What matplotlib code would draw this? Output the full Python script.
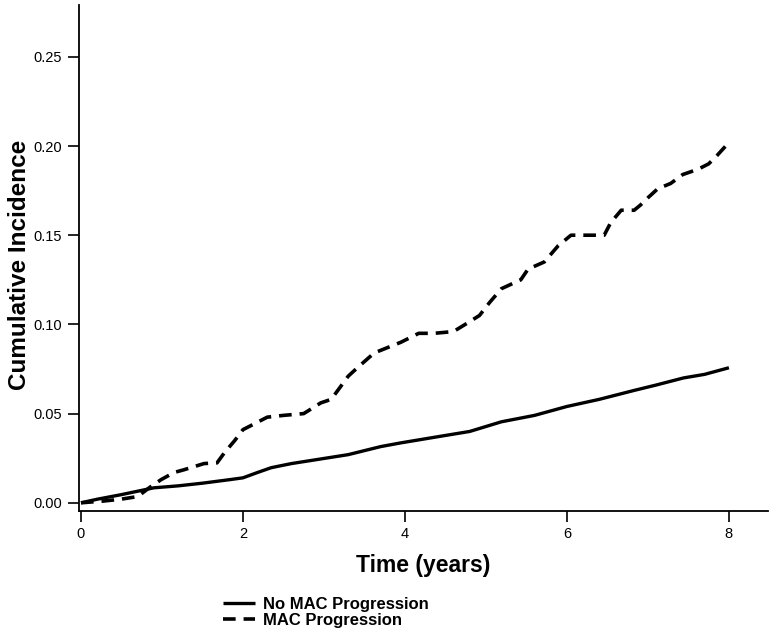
import numpy as np
import matplotlib.pyplot as plt

plt.rcParams['font.family'] = ['Liberation Sans', 'DejaVu Sans']

# Cumulative incidence
t_no_mac = [0.0, 0.2, 0.49, 0.9, 1.2, 1.5, 1.84, 2.0, 2.18, 2.35, 2.6, 2.88, 3.3, 3.7, 3.95,
            4.4, 4.8, 5.19, 5.6, 6.0, 6.4, 6.83, 7.1, 7.44, 7.7, 8.0]
ci_no_mac = [0.0, 0.002, 0.0045, 0.0084, 0.0095, 0.011, 0.013, 0.014, 0.017, 0.0197, 0.022, 0.024,
             0.027, 0.0315, 0.0336, 0.037, 0.040, 0.0454, 0.049, 0.054, 0.058, 0.063, 0.066,
             0.070, 0.072, 0.0757]

t_mac = [0.0, 0.28, 0.49, 0.70, 0.86, 0.99, 1.15, 1.27, 1.52, 1.68, 1.77, 1.9, 2.0, 2.3, 2.5,
         2.75, 2.96, 3.09, 3.3, 3.42, 3.62, 3.95, 4.17, 4.36, 4.6, 4.78, 4.92, 5.04, 5.19,
         5.43, 5.52, 5.72, 5.89, 6.05, 6.46, 6.54, 6.67, 6.83, 6.91, 7.0, 7.12, 7.28, 7.43,
         7.62, 7.75, 7.86, 7.96, 8.0]
ci_mac = [0.0, 0.001, 0.002, 0.0035, 0.009, 0.013, 0.017, 0.0185, 0.022, 0.0224, 0.028, 0.035,
          0.041, 0.048, 0.049, 0.050, 0.056, 0.058, 0.071, 0.076, 0.084, 0.090, 0.095, 0.095,
          0.096, 0.101, 0.105, 0.112, 0.120, 0.125, 0.131, 0.135, 0.144, 0.150, 0.150, 0.157,
          0.164, 0.164, 0.167, 0.171, 0.176, 0.179, 0.184, 0.187, 0.190, 0.195, 0.200, 0.201]

x_ticks = [0, 2, 4, 6, 8]
y_ticks = [0.00, 0.05, 0.10, 0.15, 0.20, 0.25]

fig = plt.figure(figsize=(7.74, 6.33), dpi=100)
ax = fig.add_axes([0.102, 0.193, 0.890, 0.799])

ax.plot(t_no_mac, ci_no_mac, color='black', lw=2.4, solid_capstyle='butt',
        label='No MAC Progression')
ax.plot(t_mac, ci_mac, color='black', lw=2.6, linestyle=(0, (3.5, 2.2)),
        label='MAC Progression')

ax.set_xlim(-0.025, 8.48)
ax.set_ylim(-0.0045, 0.279)
ax.set_xticks(x_ticks)
ax.set_xticklabels([str(v) for v in x_ticks])
ax.set_yticks(y_ticks)
ax.set_yticklabels(['%.2f' % v for v in y_ticks])
ax.tick_params(axis='both', direction='out', length=8, width=1.2, labelsize=10.5, pad=4)
for s in ['top', 'right']:
    ax.spines[s].set_visible(False)
for s in ['left', 'bottom']:
    ax.spines[s].set_linewidth(1.3)

ax.set_xlabel('Time (years)', fontsize=16.5, fontweight='bold', labelpad=9)
ax.set_ylabel('Cumulative Incidence', fontsize=17.5, fontweight='bold')
ax.yaxis.set_label_coords(-0.07, 0.486)

fig.legend(loc='upper left', bbox_to_anchor=(0.288, 0.057), frameon=False,
           prop={'weight': 'bold', 'size': 12},
           handlelength=1.9, handletextpad=0.5, labelspacing=0.05, borderpad=0,
           borderaxespad=0)

fig.savefig('out.png', dpi=100)
